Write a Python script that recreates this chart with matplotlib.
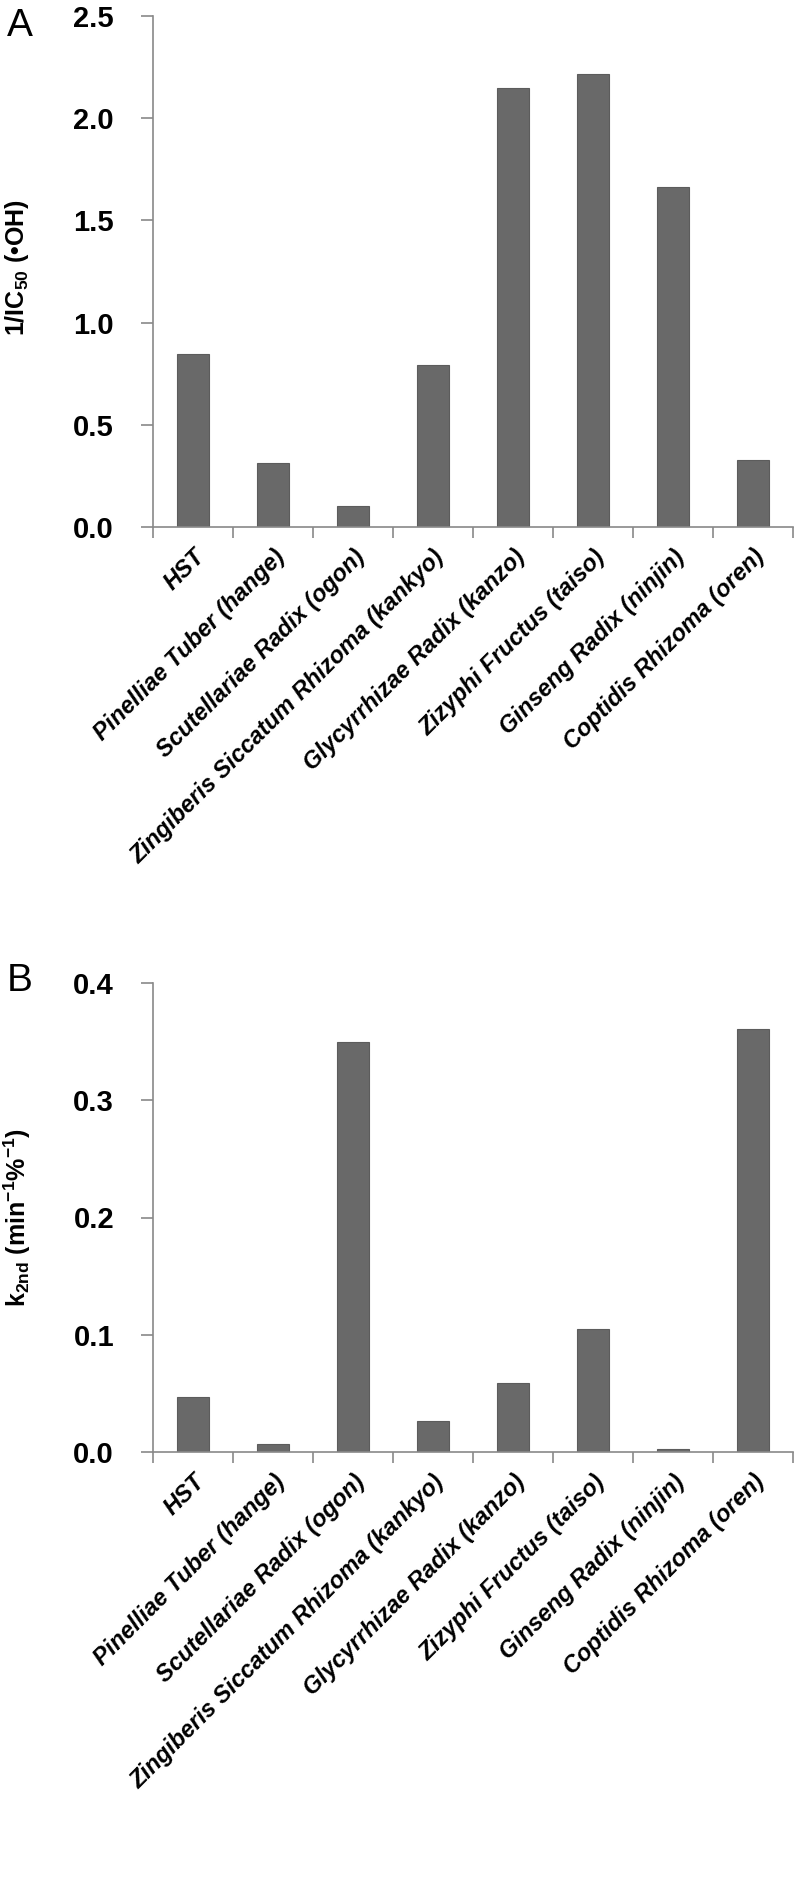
import matplotlib
matplotlib.use("Agg")
import matplotlib.pyplot as plt

herbs = ["HST", "Pinelliae Tuber (hange)", "Scutellariae Radix (ogon)",
         "Zingiberis Siccatum Rhizoma (kankyo)", "Glycyrrhizae Radix (kanzo)",
         "Zizyphi Fructus (taiso)", "Ginseng Radix (ninjin)", "Coptidis Rhizoma (oren)"]
inv_ic50 = [0.846, 0.312, 0.105, 0.792, 2.146, 2.216, 1.661, 0.329]
k2nd = [0.0466, 0.0071, 0.350, 0.0266, 0.059, 0.105, 0.0023, 0.3606]
yticks_a = [0.0, 0.5, 1.0, 1.5, 2.0, 2.5]
yticks_b = [0.0, 0.1, 0.2, 0.3, 0.4]

plt.rcParams['mathtext.fontset'] = 'custom'
plt.rcParams['mathtext.bf'] = 'Liberation Sans:bold'
plt.rcParams['mathtext.rm'] = 'Liberation Sans:bold'
plt.rcParams['mathtext.default'] = 'bf'

spine_col = '#898989'
bar_col = '#696969'

fig = plt.figure(figsize=(8, 18.97), dpi=100)
ax1 = fig.add_axes([0.19125, 1 - 527 / 1897, 0.8, 511 / 1897])
ax2 = fig.add_axes([0.19125, 1 - 1452 / 1897, 0.8, 469 / 1897])

def style(ax, vals, yt):
    x = list(range(len(vals)))
    ax.bar(x, vals, width=0.4, color=bar_col, edgecolor='#5c5c5c', linewidth=0.8, zorder=2)
    ax.set_xlim(-0.5, len(vals) - 0.5)
    ax.set_ylim(yt[0], yt[-1])
    ax.set_yticks(yt)
    ax.set_yticklabels(['%.1f' % v for v in yt], family='Liberation Sans',
                       fontweight='bold', fontsize=21)
    # tick marks at category boundaries, names at bar centres
    ax.set_xticks([i - 0.5 for i in range(len(vals) + 1)])
    ax.set_xticklabels([])
    ax.set_xticks(x, minor=True)
    ax.set_xticklabels(herbs, minor=True, rotation=45, ha='right', rotation_mode='anchor',
                       fontsize=17, fontweight='bold', style='italic', family='Liberation Sans')
    ax.tick_params(axis='x', which='minor', length=0, pad=13)
    ax.tick_params(axis='x', which='major', length=8, color=spine_col, width=1.2)
    ax.tick_params(axis='y', length=9, color=spine_col, width=1.2, pad=19)
    for s in ['top', 'right']:
        ax.spines[s].set_visible(False)
    for s in ['left', 'bottom']:
        ax.spines[s].set_color(spine_col)
        ax.spines[s].set_linewidth(1.2)

style(ax1, inv_ic50, yticks_a)
style(ax2, k2nd, yticks_b)

fig.text(17 / 800, 1 - 268 / 1897, '1/IC$_{50}$ (•OH)', rotation=90, ha='center', va='center',
         fontsize=18, fontweight='bold', family='Liberation Sans')
fig.text(17 / 800, 1 - 1218 / 1897, 'k$_{2nd}$ (min$^{-1}$%$^{-1}$)', rotation=90, ha='center', va='center',
         fontsize=18, fontweight='bold', family='Liberation Sans')

fig.text(20 / 800, 1 - 26 / 1897, 'A', ha='center', va='center', fontsize=28, family='Liberation Sans')
fig.text(20 / 800, 1 - 981 / 1897, 'B', ha='center', va='center', fontsize=28, family='Liberation Sans')

fig.savefig('out.png', dpi=100)
